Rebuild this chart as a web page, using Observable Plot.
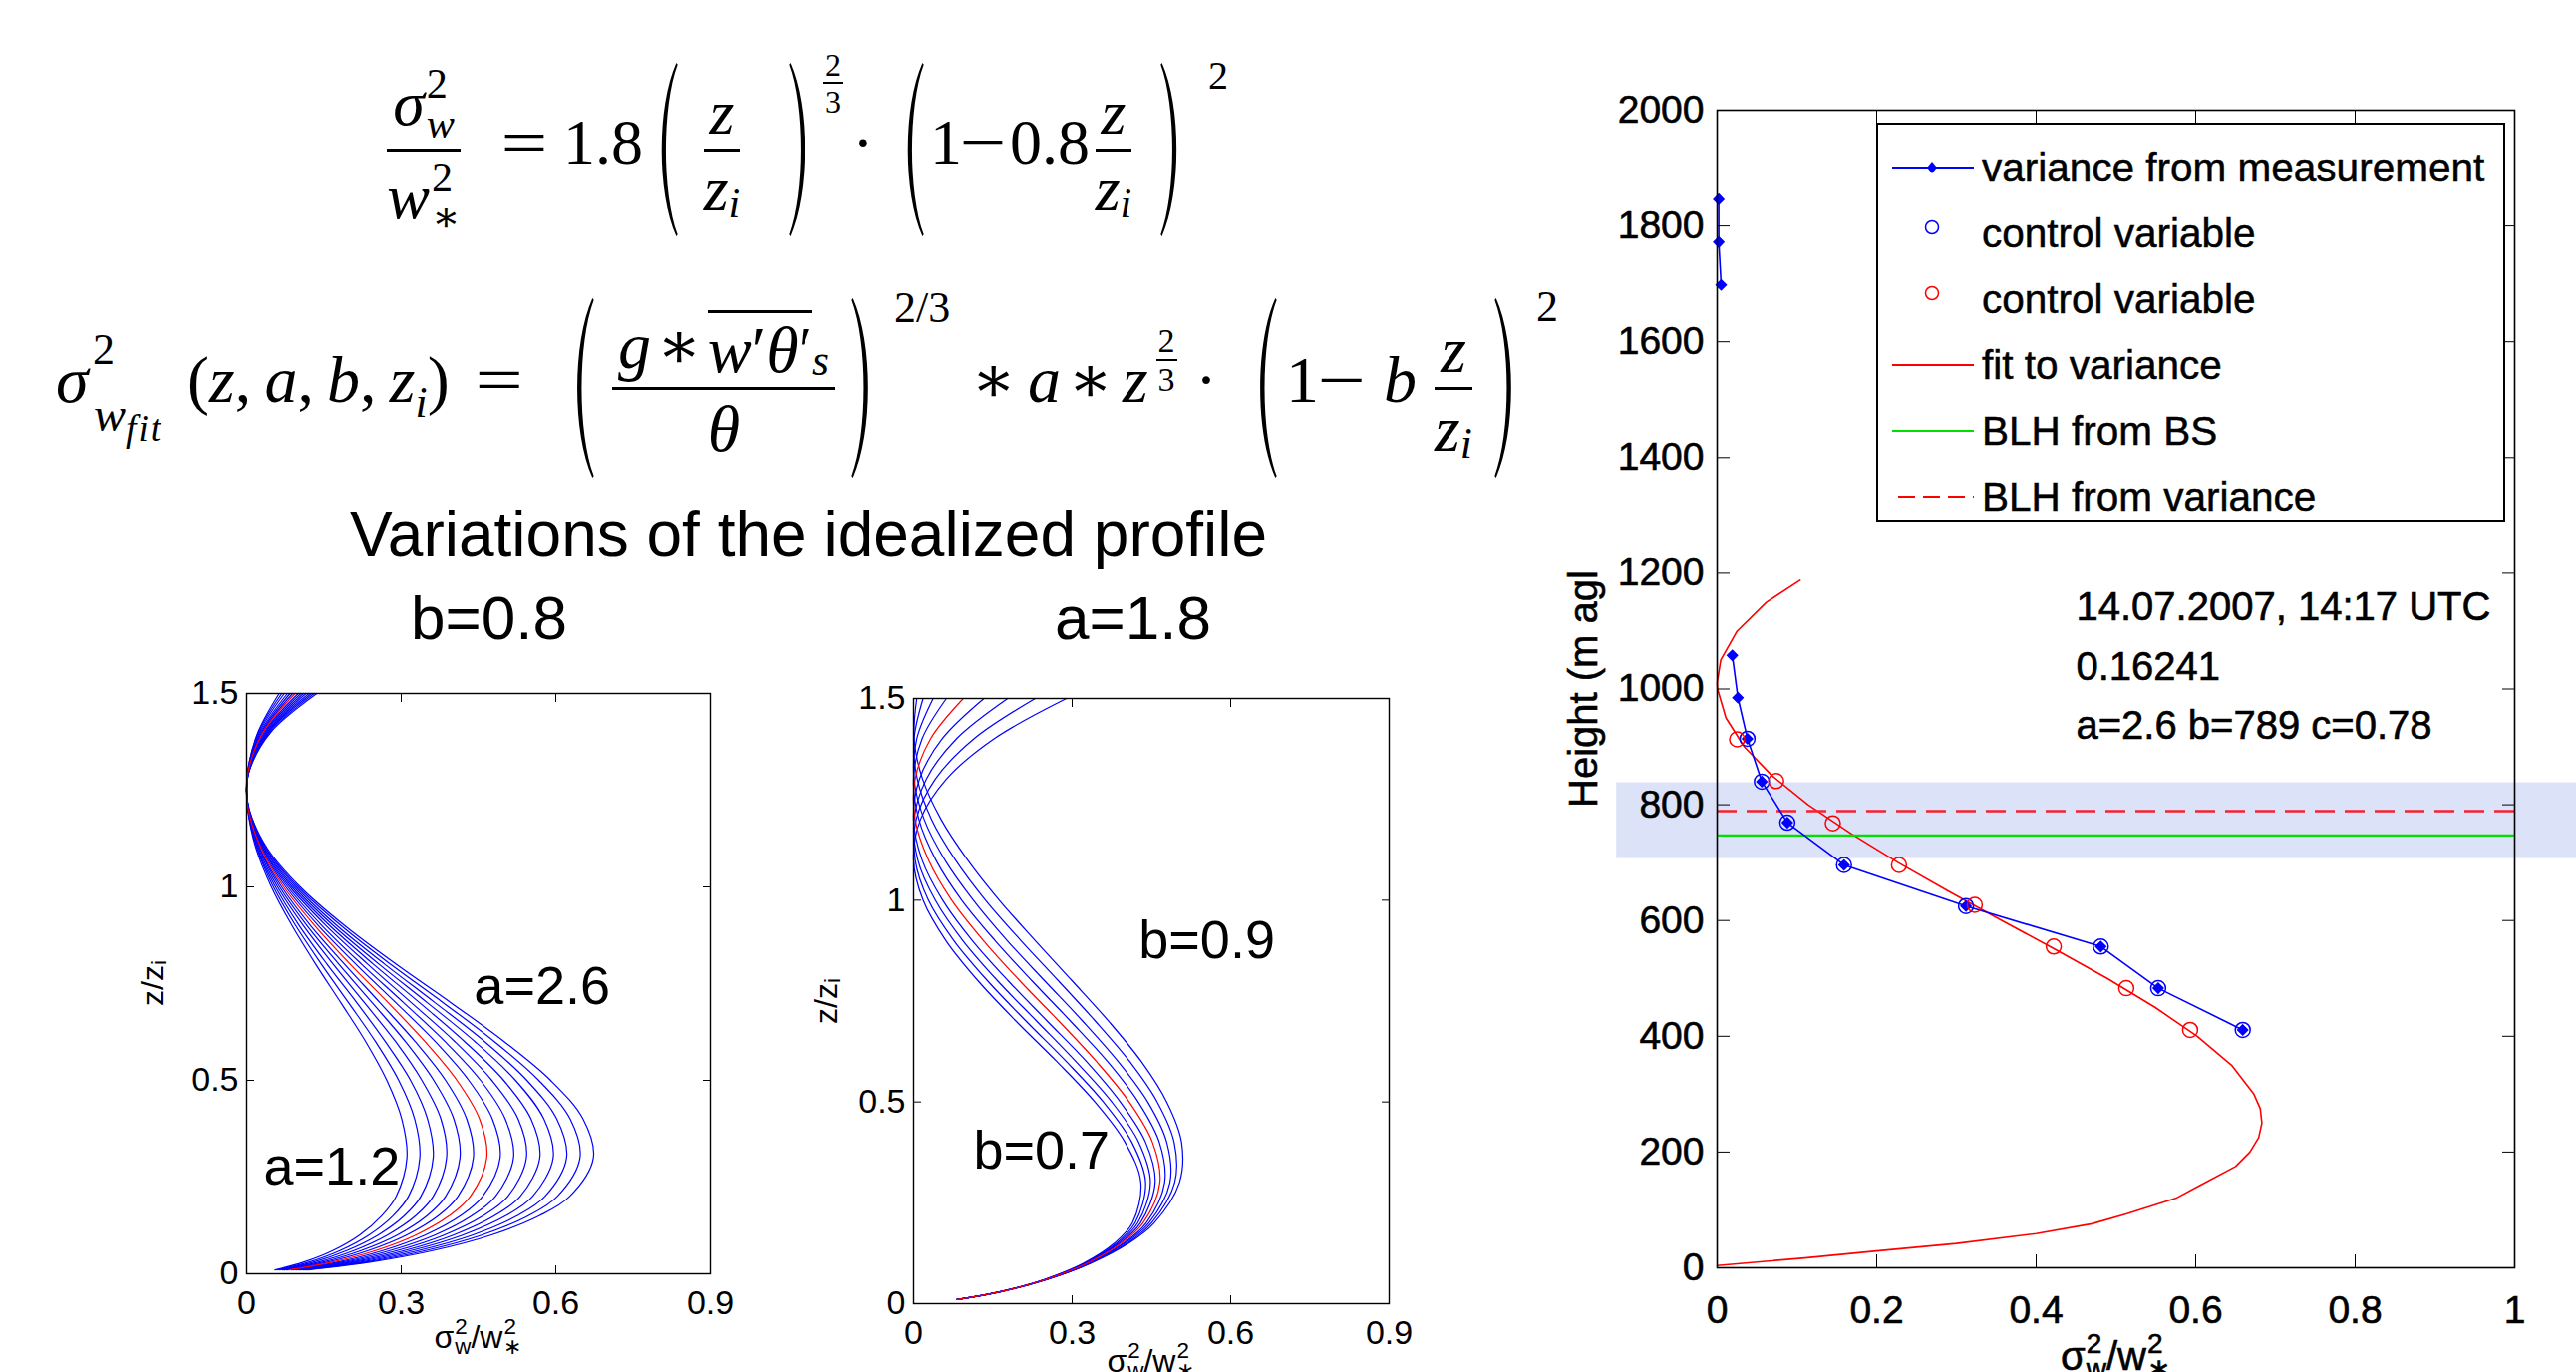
<!DOCTYPE html>
<html>
<head>
<meta charset="utf-8">
<script src="https://cdn.jsdelivr.net/npm/d3@7"></script>
<script src="https://cdn.jsdelivr.net/npm/@observablehq/plot@0.6"></script>
<style>
html,body{margin:0;padding:0;background:#fff;overflow:hidden;}
#page{position:relative;width:2584px;height:1376px;overflow:hidden;background:#fff;font-family:"Liberation Sans",Arial,sans-serif;color:#000;}
.abs{position:absolute;white-space:nowrap;line-height:1;}
.mlayer{position:absolute;left:0;top:0;width:1640px;height:520px;font-family:"Liberation Serif","DejaVu Serif",serif;color:#000;}
.mlayer>div{position:absolute;white-space:nowrap;line-height:1;}
.it{font-style:italic;}
.wide{display:inline-block;transform:scaleX(1.3);}
.fr{display:inline-flex;flex-direction:column;align-items:center;}
.fr>.n{border-bottom:3px solid #000;padding:0 6px 4px;display:flex;align-items:center;justify-content:center;}
.fr>.d{padding:6px 6px 0;display:flex;align-items:center;justify-content:center;}
.st{display:inline-flex;flex-direction:column;font-size:0.66em;line-height:0.95;margin-left:2px;}
.sb{font-size:0.66em;position:relative;top:0.35em;}
.sfr{display:inline-flex;flex-direction:column;align-items:center;line-height:1;}
.sfr>.n{border-bottom:2px solid #000;padding:0 2px 1px;}
.sfr>.d{padding-top:2px;}
.lab{position:absolute;display:flex;align-items:center;white-space:nowrap;line-height:1;font-family:"Liberation Sans",Arial,sans-serif;}
.lab .st{font-size:0.7em;line-height:0.9;margin-left:1px;}
.bold{-webkit-text-stroke:0.6px #000;}
#legend{position:absolute;background:#fff;border:2px solid #000;box-sizing:border-box;font-family:"Liberation Sans",Arial,sans-serif;}
#legend .row{position:absolute;left:0;display:flex;align-items:center;height:66px;}
#legend .row span{font-size:40.5px;margin-left:8px;white-space:nowrap;-webkit-text-stroke:0.5px #000;}
</style>
</head>
<body>
<div id="page">
  <div class="mlayer" id="math"></div>
  <div class="abs" id="title" style="left:811px;top:504px;font-size:64px;transform:translateX(-50%)">Variations of the idealized profile</div>
  <div class="abs" id="lb1" style="left:412px;top:589px;font-size:62px">b=0.8</div>
  <div class="abs" id="lb2" style="left:1058px;top:589px;font-size:62px">a=1.8</div>
</div>
<script>
// ---------------- data ----------------
// heights (z/zi) at which the idealized profiles were read
const zLevelsA = [0.01,0.03,0.06,0.1,0.15,0.2,0.3,0.4,0.5,0.6,0.7,0.8,0.9,1.0,1.1,1.2,1.25,1.3,1.4,1.5];
// left panel: b = 0.8, a from 1.2 to 2.6 (values of sigma_w^2/w*^2)
const aValues = [1.2,1.3,1.4,1.5,1.6,1.7,1.8,1.9,2.0,2.1,2.2,2.3,2.4,2.5,2.6];
const profA12 = [0.055,0.110,0.167,0.219,0.262,0.290,0.311,0.301,0.272,0.231,0.183,0.134,0.088,0.048,0.018,0.002,0,0.002,0.022,0.063];
const profA13 = [0.059,0.120,0.181,0.237,0.284,0.314,0.336,0.326,0.295,0.250,0.198,0.145,0.095,0.052,0.020,0.002,0,0.002,0.023,0.068];
const profA14 = [0.064,0.129,0.194,0.255,0.306,0.338,0.362,0.351,0.318,0.269,0.214,0.156,0.102,0.056,0.021,0.003,0,0.003,0.025,0.073];
const profA15 = [0.069,0.138,0.208,0.273,0.328,0.362,0.388,0.377,0.340,0.289,0.229,0.168,0.110,0.060,0.023,0.003,0,0.003,0.027,0.079];
const profA16 = [0.073,0.147,0.222,0.292,0.350,0.386,0.414,0.402,0.363,0.308,0.244,0.179,0.117,0.064,0.025,0.003,0,0.003,0.029,0.084];
const profA17 = [0.078,0.156,0.236,0.310,0.372,0.410,0.440,0.427,0.386,0.327,0.259,0.190,0.124,0.068,0.026,0.003,0,0.003,0.031,0.089];
const profA18 = [0.082,0.165,0.250,0.328,0.393,0.434,0.466,0.452,0.408,0.346,0.275,0.201,0.132,0.072,0.028,0.003,0,0.003,0.032,0.094];
const profA19 = [0.087,0.175,0.264,0.346,0.415,0.458,0.492,0.477,0.431,0.366,0.290,0.212,0.139,0.076,0.029,0.003,0,0.004,0.034,0.100];
const profA20 = [0.091,0.184,0.278,0.365,0.437,0.483,0.518,0.502,0.454,0.385,0.305,0.223,0.146,0.080,0.031,0.004,0,0.004,0.036,0.105];
const profA21 = [0.096,0.193,0.292,0.383,0.459,0.507,0.543,0.527,0.476,0.404,0.320,0.235,0.154,0.084,0.032,0.004,0,0.004,0.038,0.110];
const profA22 = [0.101,0.202,0.306,0.401,0.481,0.531,0.569,0.552,0.499,0.423,0.336,0.246,0.161,0.088,0.034,0.004,0,0.004,0.040,0.115];
const profA23 = [0.105,0.211,0.319,0.419,0.503,0.555,0.595,0.577,0.522,0.443,0.351,0.257,0.168,0.092,0.035,0.004,0,0.004,0.041,0.121];
const profA24 = [0.110,0.221,0.333,0.438,0.525,0.579,0.621,0.602,0.544,0.462,0.366,0.268,0.175,0.096,0.037,0.004,0,0.005,0.043,0.126];
const profA25 = [0.114,0.230,0.347,0.456,0.547,0.603,0.647,0.628,0.567,0.481,0.382,0.279,0.183,0.100,0.038,0.005,0,0.005,0.045,0.131];
const profA26 = [0.119,0.239,0.361,0.474,0.568,0.627,0.673,0.653,0.590,0.500,0.397,0.290,0.190,0.104,0.040,0.005,0,0.005,0.047,0.136];
const profilesA = [profA12,profA13,profA14,profA15,profA16,profA17,profA18,profA19,profA20,profA21,profA22,profA23,profA24,profA25,profA26];
const refA = 1.8;

// middle panel: a = 1.8, b from 0.7 to 0.9
const zLevelsB = [0.01,0.03,0.06,0.1,0.15,0.2,0.3,0.4,0.5,0.6,0.7,0.8,0.9,1.0,1.1,1.2,1.3,1.4,1.5];
const bValues = [0.7,0.725,0.75,0.775,0.8,0.825,0.85,0.875,0.9];
const profB0700 = [0.082,0.167,0.253,0.335,0.407,0.455,0.503,0.507,0.479,0.431,0.369,0.300,0.230,0.162,0.102,0.052,0.017,0.001,0.006];
const profB0725 = [0.082,0.166,0.252,0.334,0.404,0.450,0.494,0.493,0.461,0.409,0.344,0.274,0.203,0.136,0.079,0.034,0.007,0.001,0.018];
const profB0750 = [0.082,0.166,0.252,0.332,0.400,0.445,0.485,0.479,0.443,0.387,0.320,0.248,0.177,0.113,0.059,0.020,0.001,0.006,0.037];
const profB0775 = [0.082,0.166,0.251,0.330,0.397,0.440,0.475,0.465,0.425,0.367,0.297,0.224,0.154,0.091,0.042,0.010,0.000,0.016,0.062];
const profB0800 = [0.082,0.165,0.250,0.328,0.393,0.434,0.466,0.452,0.408,0.346,0.275,0.201,0.132,0.072,0.028,0.003,0.003,0.032,0.094];
const profB0825 = [0.082,0.165,0.249,0.326,0.390,0.429,0.457,0.439,0.391,0.327,0.253,0.179,0.111,0.055,0.016,0.000,0.011,0.054,0.133];
const profB0850 = [0.082,0.165,0.249,0.325,0.387,0.424,0.448,0.426,0.375,0.307,0.233,0.159,0.093,0.041,0.008,0.001,0.024,0.081,0.178];
const profB0875 = [0.082,0.165,0.248,0.323,0.384,0.419,0.439,0.413,0.359,0.289,0.213,0.140,0.076,0.028,0.003,0.005,0.041,0.114,0.230];
const profB0900 = [0.082,0.164,0.247,0.321,0.380,0.414,0.430,0.400,0.343,0.271,0.194,0.122,0.061,0.018,0.000,0.013,0.062,0.152,0.289];
const profilesB = [profB0700,profB0725,profB0750,profB0775,profB0800,profB0825,profB0850,profB0875,profB0900];
const refB = 0.8;

const xTicksSmall = [0, 0.3, 0.6, 0.9];
const yTicksSmall = [0, 0.5, 1, 1.5];
const notesA = [{x:0.441, y:0.742, t:"a=2.6"}, {x:0.033, y:0.276, t:"a=1.2"}];
const notesB = [{x:0.426, y:0.900, t:"b=0.9"}, {x:0.113, y:0.378, t:"b=0.7"}];

// right panel: measured profile 14.07.2007 14:17 UTC
const measVar    = [0.002,0.002,0.005,NaN,0.019,0.026,0.038,0.056,0.088,0.159,0.312,0.481,0.553,0.659];
const measHeight = [1846,1772,1698,NaN,1058,985,914,840,769,696,625,555,483,411];
const ctrlBlueVar    = [0.038,0.056,0.088,0.159,0.312,0.481,0.553,0.659];
const ctrlBlueHeight = [914,840,769,696,625,555,483,411];
const ctrlRedVar     = [0.025,0.074,0.145,0.228,0.323,0.422,0.513,0.593];
const ctrlRedHeight  = [913,841,768,696,627,555,483,411];
const fitHeight = [4,17,29,42,59,76,93,120,142,175,200,225,250,275,300,350,400,450,500,550,600,650,700,750,800,850,900,950,1000,1011,1050,1100,1150,1188];
const fitVar    = [0,0.11,0.2,0.3,0.4,0.47,0.513,0.575,0.605,0.65,0.668,0.679,0.683,0.681,0.673,0.645,0.602,0.549,0.489,0.424,0.357,0.291,0.227,0.168,0.114,0.069,0.034,0.011,0.0004,0,0.0045,0.025,0.062,0.104];
const blhFromBS = 747;
const blhFromVariance = 789;
const bandHeights = [707, 838];
const bandVar = [-0.126, 1.078];
const xTicksMain = [0, 0.2, 0.4, 0.6, 0.8, 1];
const yTicksMain = [0,200,400,600,800,1000,1200,1400,1600,1800,2000];
const mainNotes = [
  {x:0.45, y:1141, t:"14.07.2007, 14:17 UTC"},
  {x:0.45, y:1038, t:"0.16241"},
  {x:0.45, y:936,  t:"a=2.6 b=789 c=0.78"}
];
const legendLabels = ["variance from measurement","control variable","control variable","fit to variance","BLH from BS","BLH from variance"];

// ---------------- formulas (typeset by hand) ----------------
const mathLayer = document.getElementById("math");
function paren(h, right) {
  const w = Math.round(h * 0.15);
  const d = right ? "M2,0 C17,25 17,75 2,100 L1,99 C13,75 13,25 1,1 Z"
                  : "M18,0 C3,25 3,75 18,100 L19,99 C7,75 7,25 19,1 Z";
  return `<svg width="${w}" height="${h}" viewBox="0 0 20 100" preserveAspectRatio="none" style="display:block"><path d="${d}" fill="#000"/></svg>`;
}
// put a piece: x is left edge (or centre if hc), y is vertical centre (or fraction bar if bar)
function put(html, x, y, size, opt = {}) {
  const el = document.createElement("div");
  el.style.fontSize = size + "px";
  el.innerHTML = html;
  el.style.left = "0px"; el.style.top = "0px";
  mathLayer.appendChild(el);
  const r = el.getBoundingClientRect();
  let top;
  if (opt.bar) {
    const n = el.querySelector(".n").getBoundingClientRect();
    top = y - (n.bottom - r.top) + 1.5;
  } else top = y - r.height / 2;
  const left = opt.hc ? x - r.width / 2 : x;
  el.style.left = left + "px";
  el.style.top = top + "px";
}
const zz = `<span class="fr"><span class="n it">z</span><span class="d"><span class="it">z</span><span class="sb it">i</span></span></span>`;

// formula 1 : axis at y=150
{
  const F = 64, ax = 150, ty = 143;
  put(`<span class="fr"><span class="n"><span class="it">σ</span><span class="st"><span>2</span><span class="it">w</span></span></span><span class="d"><span class="it">w</span><span class="st"><span>2</span><span>∗</span></span></span></span>`, 425, ax, F, {hc:true, bar:true});
  put(`<span class="wide">=</span>`, 526, ty, F, {hc:true});
  put(`1.8`, 565, ty, F);
  put(paren(174,false), 668, ax, F, {hc:true});
  put(zz, 724, ax, F, {hc:true, bar:true});
  put(paren(174,true), 803, ax, F, {hc:true});
  put(`<span class="sfr"><span class="n">2</span><span class="d">3</span></span>`, 836, 82, 32, {hc:true, bar:true});
  put(`·`, 866, ty, F, {hc:true});
  put(paren(174,false), 915, ax, F, {hc:true});
  put(`1`, 933, ty, F);
  put(`<span class="wide">−</span>`, 986, ty, F, {hc:true});
  put(`0.8`, 1013, ty, F);
  put(zz, 1117, ax, F, {hc:true, bar:true});
  put(paren(174,true), 1176, ax, F, {hc:true});
  put(`2`, 1212, 76, 40);
}
// formula 2 : axis at y=389
{
  const F = 66, ax = 389, ty = 381;
  put(`<span class="it">σ</span>`, 56, ty, F);
  put(`2`, 93, 351, 44);
  put(`<span class="it">w</span><span class="it" style="font-size:0.78em;position:relative;top:0.28em;letter-spacing:2px">fit</span>`, 94, 416, 48);
  put(`(<span class="it">z</span>,&thinsp;<span class="it">a</span>,&thinsp;<span class="it">b</span>,&thinsp;<span class="it">z</span><span class="sb it">i</span>)`, 188, ty, F);
  put(`<span class="wide">=</span>`, 501, ty, F, {hc:true});
  put(paren(180,false), 583, ax, F, {hc:true});
  put(`<span class="fr"><span class="n"><span class="it">g</span><span style="margin:0 6px">∗</span><span style="border-top:3px solid #000;padding-top:4px"><span class="it">w</span>′<span class="it">θ</span>′</span><span class="sb it">s</span></span><span class="d it" style="padding-bottom:20px">θ</span></span>`, 726, ax, F, {hc:true, bar:true});
  put(paren(180,true), 866, ax, F, {hc:true});
  put(`2/3`, 897, 309, 44);
  put(`∗`, 997, ty, F, {hc:true});
  put(`<span class="it">a</span>`, 1031, ty, F);
  put(`∗`, 1094, ty, F, {hc:true});
  put(`<span class="it">z</span>`, 1126, ty, F);
  put(`<span class="sfr"><span class="n">2</span><span class="d">3</span></span>`, 1170, 360, 34, {hc:true, bar:true});
  put(`·`, 1210, ty, F, {hc:true});
  put(paren(180,false), 1268, ax, F, {hc:true});
  put(`1`, 1290, ty, F);
  put(`<span class="wide">−</span>`, 1346, ty, F, {hc:true});
  put(`<span class="it">b</span>`, 1388, ty, F);
  put(zz, 1458, ax, F, {hc:true, bar:true});
  put(paren(180,true), 1511, ax, F, {hc:true});
  put(`2`, 1541, 308, 44);
}

// ---------------- helpers ----------------
const page = document.getElementById("page");
function addLabel(html, cx, cy, size, rotate, cls) {
  const el = document.createElement("div");
  el.className = "lab" + (cls ? " " + cls : "");
  el.style.fontSize = size + "px";
  el.innerHTML = html;
  el.style.left = cx + "px";
  el.style.top = cy + "px";
  el.style.transform = `translate(-50%,-50%)` + (rotate ? ` rotate(${rotate}deg)` : "");
  page.appendChild(el);
  return el;
}
const sigmaLabel = `<span>σ</span><span class="st"><span>2</span><span>w</span></span><span>/w</span><span class="st"><span>2</span><span>∗</span></span>`;
const zziLabel = `<span>z/z</span><span style="font-size:0.7em;position:relative;top:0.3em">i</span>`;

function place(node, left, top) {
  const wrap = document.createElement("div");
  wrap.style.position = "absolute";
  wrap.style.left = left + "px";
  wrap.style.top = top + "px";
  wrap.appendChild(node);
  page.appendChild(wrap);
}

function profilePlot(levels, profiles, params, ref, notes, fw, fh) {
  const rows = [];
  profiles.forEach((vals, k) => vals.forEach((v, i) => rows.push({p: params[k], z: levels[i], v, ref: params[k] === ref})));
  const m = {l: 70, r: 20, t: 20, b: 60};
  return Plot.plot({
    width: m.l + fw + m.r, height: m.t + fh + m.b,
    marginLeft: m.l, marginRight: m.r, marginTop: m.t, marginBottom: m.b,
    x: {domain: [0, 0.9], label: null},
    y: {domain: [0, 1.5], label: null},
    style: {background: "transparent", overflow: "visible", fontFamily: "Liberation Sans, Arial, sans-serif", fontSize: "34px", color: "#000"},
    marks: [
      Plot.line(rows.filter(d => !d.ref), {x: "v", y: "z", z: "p", stroke: "#0000ff", strokeWidth: 1.2, curve: "catmull-rom"}),
      Plot.line(rows.filter(d => d.ref), {x: "v", y: "z", stroke: "#ff0000", strokeWidth: 1.2, curve: "catmull-rom"}),
      Plot.frame({stroke: "#000", strokeWidth: 1.4}),
      Plot.axisX(xTicksSmall, {anchor: "bottom", tickSize: -8, tickPadding: 24, tickFormat: String, fontSize: 34, label: null}),
      Plot.axisX(xTicksSmall, {anchor: "top", tickSize: -8, tickFormat: () => "", label: null}),
      Plot.axisY(yTicksSmall, {anchor: "left", tickSize: -8, tickPadding: 16, tickFormat: String, fontSize: 34, label: null}),
      Plot.axisY(yTicksSmall, {anchor: "right", tickSize: -8, tickFormat: () => "", label: null}),
      Plot.text(notes, {x: "x", y: "y", text: "t", textAnchor: "start", lineAnchor: "middle", fontSize: 54, fill: "#000"})
    ]
  });
}

// ---------------- left and middle panels ----------------
const plotA = profilePlot(zLevelsA, profilesA, aValues, refA, notesA, 465, 582);
place(plotA, 177, 675);
const plotB = profilePlot(zLevelsB, profilesB, bValues, refB, notesB, 477, 607);
place(plotB, 846, 680);

{
  const sx = plotA.scale("x"), sy = plotA.scale("y");
  addLabel(sigmaLabel, 177 + sx.apply(0.45), 1341, 32);
  addLabel(zziLabel, 153, 675 + sy.apply(0.75), 32, -90);
}
{
  const sx = plotB.scale("x"), sy = plotB.scale("y");
  addLabel(sigmaLabel, 846 + sx.apply(0.45), 1365, 32);
  addLabel(zziLabel, 829, 680 + sy.apply(0.75), 32, -90);
}

// ---------------- right panel ----------------
const meas = measVar.map((v, i) => ({v, z: measHeight[i]}));
const ctrlBlue = ctrlBlueVar.map((v, i) => ({v, z: ctrlBlueHeight[i]}));
const ctrlRed = ctrlRedVar.map((v, i) => ({v, z: ctrlRedHeight[i]}));
const fit = fitVar.map((v, i) => ({v, z: fitHeight[i]}));
const band = [{x1: bandVar[0], x2: bandVar[1], y1: bandHeights[0], y2: bandHeights[1]}];

const mm = {l: 140, r: 62, t: 20, b: 80};
const plotC = Plot.plot({
  width: mm.l + 800 + mm.r, height: mm.t + 1161 + mm.b,
  marginLeft: mm.l, marginRight: mm.r, marginTop: mm.t, marginBottom: mm.b,
  x: {domain: [0, 1], label: null},
  y: {domain: [0, 2000], label: null},
  style: {background: "transparent", overflow: "visible", fontFamily: "Liberation Sans, Arial, sans-serif", fontSize: "39px", color: "#000"},
  marks: [
    Plot.rect(band, {x1: "x1", x2: "x2", y1: "y1", y2: "y2", fill: "rgb(60,100,220)", fillOpacity: 0.18}),
    Plot.line(fit, {x: "v", y: "z", stroke: "#ff0000", strokeWidth: 1.6}),
    Plot.ruleY([blhFromBS], {stroke: "#00e000", strokeWidth: 2.4}),
    Plot.ruleY([blhFromVariance], {stroke: "#f52030", strokeWidth: 2.4, strokeDasharray: "20,10"}),
    Plot.line(meas, {x: "v", y: "z", stroke: "#0000ff", strokeWidth: 1.6}),
    Plot.dot(meas, {x: "v", y: "z", symbol: "diamond2", fill: "#0000ff", stroke: "#0000ff", r: 4.5}),
    Plot.dot(ctrlBlue, {x: "v", y: "z", r: 7.5, stroke: "#0000ff", strokeWidth: 1.5, fill: "none"}),
    Plot.dot(ctrlRed, {x: "v", y: "z", r: 7.5, stroke: "#ff0000", strokeWidth: 1.5, fill: "none"}),
    Plot.text(mainNotes, {x: "x", y: "y", text: "t", textAnchor: "start", lineAnchor: "middle", fontSize: 40, fill: "#000"}),
    Plot.frame({stroke: "#000", strokeWidth: 1.6}),
    Plot.axisX(xTicksMain, {anchor: "bottom", tickSize: -13, tickPadding: 41, tickFormat: String, fontSize: 39, label: null}),
    Plot.axisX(xTicksMain, {anchor: "top", tickSize: -13, tickFormat: () => "", label: null}),
    Plot.axisY(yTicksMain, {anchor: "left", tickSize: -13, tickPadding: 26, tickFormat: String, fontSize: 39, label: null}),
    Plot.axisY(yTicksMain, {anchor: "right", tickSize: -13, tickFormat: () => "", label: null})
  ]
});
d3.select(plotC).selectAll("text").attr("stroke", "#000").attr("stroke-width", 0.6);
place(plotC, 1582, 90);
{
  const sx = plotC.scale("x"), sy = plotC.scale("y");
  addLabel(sigmaLabel, 1582 + sx.apply(0.5), 1360, 40, 0, "bold");
  addLabel(`<span>Height (m agl</span>`, 1588, 90 + sy.apply(1000), 40, -90, "bold");

  // legend
  const lg = document.createElement("div");
  lg.id = "legend";
  const lx = 1582 + sx.apply(0.2), ly = 90 + sy.apply(1977);
  lg.style.left = Math.round(lx) + "px";
  lg.style.top = Math.round(ly) + "px";
  lg.style.width = Math.round(1582 + sx.apply(0.989) - lx) + "px";
  lg.style.height = "401px";
  const samples = [
    `<line x1="0" y1="33" x2="82" y2="33" stroke="#0000ff" stroke-width="2"/><path d="M40,27 L45,33 L40,39 L35,33 Z" fill="#0000ff"/>`,
    `<circle cx="40" cy="27" r="6.5" fill="none" stroke="#0000ff" stroke-width="1.5"/>`,
    `<circle cx="40" cy="27" r="6.5" fill="none" stroke="#ff0000" stroke-width="1.5"/>`,
    `<line x1="0" y1="33" x2="82" y2="33" stroke="#ff0000" stroke-width="2"/>`,
    `<line x1="0" y1="33" x2="82" y2="33" stroke="#00e000" stroke-width="2"/>`,
    `<line x1="6" y1="33" x2="82" y2="33" stroke="#ff0000" stroke-width="2" stroke-dasharray="17,8"/>`
  ];
  legendLabels.forEach((t, i) => {
    const row = document.createElement("div");
    row.className = "row";
    row.style.top = (10 + i * 66) + "px";
    row.innerHTML = `<svg width="82" height="66" style="margin-left:14px;display:block">${samples[i]}</svg><span>${t}</span>`;
    lg.appendChild(row);
  });
  page.appendChild(lg);
}
</script>
</body>
</html>
